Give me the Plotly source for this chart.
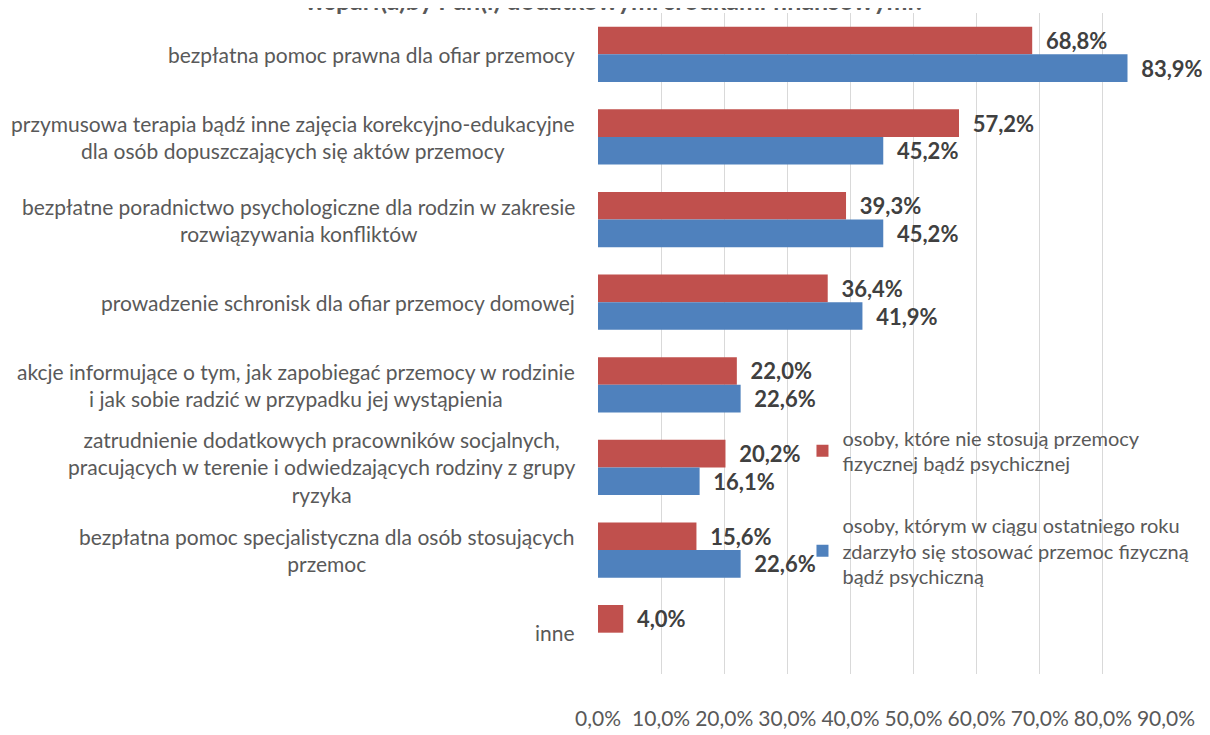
"""Horizontal grouped bars: support for anti-violence measures."""

import plotly.graph_objects as go

CATEGORIES = [
    "bezpłatna pomoc prawna dla ofiar przemocy",
    "przymusowa terapia bądź inne zajęcia korekcyjno-edukacyjne<br>dla osób dopuszczających się aktów przemocy",
    "bezpłatne poradnictwo psychologiczne dla rodzin w zakresie<br>rozwiązywania konfliktów",
    "prowadzenie schronisk dla ofiar przemocy domowej",
    "akcje informujące o tym, jak zapobiegać przemocy w rodzinie<br>i jak sobie radzić w przypadku jej wystąpienia",
    "zatrudnienie dodatkowych pracowników socjalnych,<br>pracujących w terenie i odwiedzających rodziny z grupy<br>ryzyka",
    "bezpłatna pomoc specjalistyczna dla osób stosujących<br>przemoc",
    "inne",
]
NON_VIOLENT = [68.8, 57.2, 39.3, 36.4, 22.0, 20.2, 15.6, 4.0]
VIOLENT = [83.9, 45.2, 45.2, 41.9, 22.6, 16.1, 22.6, None]
X_TICKS = [0, 10, 20, 30, 40, 50, 60, 70, 80, 90]
X_TICK_LABELS = [f"{v:.1f}%".replace(".", ",") for v in X_TICKS]

SERIES_NAMES = [
    "osoby, które nie stosują przemocy<br>fizycznej bądź psychicznej",
    "osoby, którym w ciągu ostatniego roku<br>zdarzyło się stosować przemoc fizyczną<br>bądź psychiczną",
]

FONT = "Lato"
GREY = "#595959"

fig = go.Figure()
for name, vals, color in [
    (SERIES_NAMES[0], NON_VIOLENT, "#C0504D"),
    (SERIES_NAMES[1], VIOLENT, "#4F81BD"),
]:
    fig.add_trace(
        go.Bar(
            y=CATEGORIES,
            x=vals,
            name=name,
            legendgroup=name,
            orientation="h",
            marker=dict(color=color, line=dict(width=0)),
            texttemplate="\u00a0\u00a0%{x:.1f}%",
            textposition="outside",
            textfont=dict(family=FONT, size=22, color="#404040", weight="bold"),
            cliponaxis=False,
        )
    )

# category labels: right-aligned block, centred lines
for cat in CATEGORIES:
    fig.add_annotation(
        x=-0.037,
        xref="paper",
        y=cat,
        yref="y",
        text=cat,
        showarrow=False,
        xanchor="right",
        yanchor="middle",
        align="center",
        font=dict(family=FONT, size=21, color=GREY),
    )

# title, partly cut off at the top edge as in the source
fig.add_annotation(
    x=0.03,
    xref="paper",
    y=1.019,
    yref="paper",
    text="<b>wsparł(a)by Pan(i) dodatkowymi środkami finansowymi?</b>",
    showarrow=False,
    xanchor="center",
    yanchor="middle",
    font=dict(family=FONT, size=25, color=GREY),
)

fig.update_layout(
    width=1202,
    height=727,
    paper_bgcolor="white",
    plot_bgcolor="white",
    separators=", ",
    barmode="group",
    bargap=0.33,
    bargroupgap=0,
    margin=dict(l=590, r=44, t=5, b=43),
    font=dict(family=FONT, size=20, color=GREY),
    legend=dict(
        x=0.36,
        y=0.387,
        xanchor="left",
        yanchor="top",
        bgcolor="rgba(0,0,0,0)",
        font=dict(family=FONT, size=20, color=GREY),
        tracegroupgap=32,
        traceorder="grouped",
    ),
    showlegend=True,
)
fig.update_xaxes(
    range=[0, 90],
    tickvals=X_TICKS,
    ticktext=X_TICK_LABELS,
    showgrid=True,
    gridcolor="#D9D9D9",
    gridwidth=1,
    zeroline=False,
    showline=False,
    ticks="outside",
    ticklen=26,
    tickcolor="rgba(0,0,0,0)",
    tickfont=dict(family=FONT, size=21, color=GREY),
)
fig.update_yaxes(
    autorange="reversed",
    showticklabels=False,
    showgrid=False,
    showline=False,
    zeroline=False,
)

fig.write_html("out.html")
